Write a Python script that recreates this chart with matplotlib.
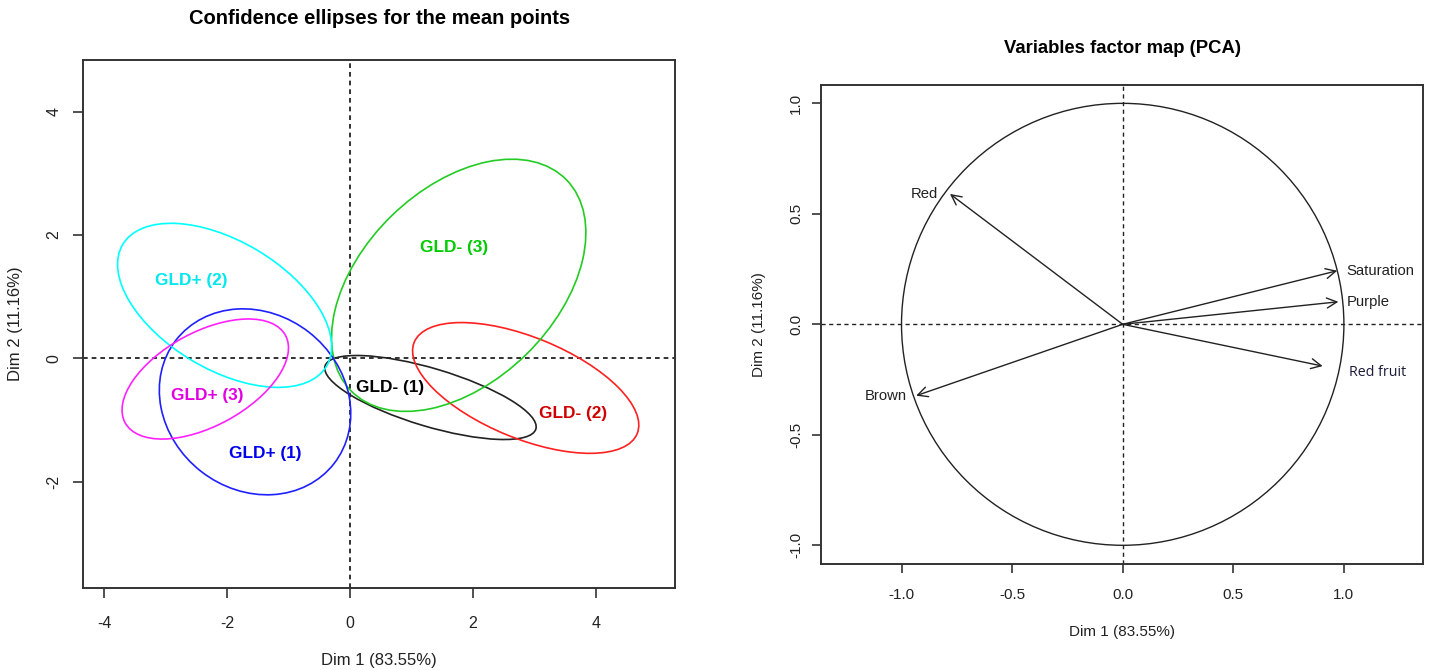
import numpy as np
import matplotlib.pyplot as plt
from matplotlib.patches import Ellipse, Circle

plt.rcParams['font.family'] = ['Liberation Sans', 'DejaVu Sans']
plt.rcParams['axes.unicode_minus'] = False

# confidence ellipses
groups = ['GLD- (1)', 'GLD- (2)', 'GLD- (3)', 'GLD+ (1)', 'GLD+ (2)', 'GLD+ (3)']
ell_cx = [1.31, 2.86, 1.77, -1.545, -2.04, -2.355]
ell_cy = [-0.635, -0.48, 1.185, -0.705, 0.86, -0.335]
ell_a = [1.79, 1.96, 2.45, 1.63, 1.93, 1.485]
ell_b = [0.47, 0.82, 1.57, 1.43, 1.04, 0.76]
ell_angle = [-16.6, -22.2, 44.2, -37.8, -30.7, 28.5]
lab_x = [0.65, 3.63, 1.70, -1.38, -2.58, -2.33]
lab_y = [-0.47, -0.89, 1.80, -1.55, 1.26, -0.61]

line_cols = ['#222222', '#ff2020', '#22cc22', '#2020ff', '#00ffff', '#ff22ff']
text_cols = ['black', '#d00000', '#00cc00', '#0000ee', '#00e8ee', '#e000e0']

# variables factor map
var_names = ['Red', 'Saturation', 'Purple', 'Red fruit', 'Brown']
var_x = [-0.781, 0.970, 0.975, 0.904, -0.934]
var_y = [0.590, 0.2425, 0.102, -0.189, -0.323]

ticks1_x = [-4, -2, 0, 2, 4]
ticks1_y = [-2, 0, 2, 4]
ticks2 = [-1.0, -0.5, 0.0, 0.5, 1.0]

W, H = 1432, 670
fig = plt.figure(figsize=(W / 100, H / 100), dpi=100)
fig.patch.set_facecolor('white')

# ---- left panel
ax1 = fig.add_axes([83.3 / W, 1 - 588.3 / H, 591.7 / W, 528.3 / H])
ax1.set_xlim(-4.34, 5.29)
ax1.set_ylim(-3.73, 4.84)

ax1.axhline(0, color='#222222', lw=1.3, ls=(0, (2.6, 2.2)), zorder=1)
ax1.axvline(0, color='#222222', lw=1.3, ls=(0, (2.6, 2.2)), zorder=1)

for i in range(len(groups)):
    e = Ellipse((ell_cx[i], ell_cy[i]), 2 * ell_a[i], 2 * ell_b[i], angle=ell_angle[i],
                fill=False, edgecolor=line_cols[i], lw=1.2, zorder=2)
    ax1.add_patch(e)
    ax1.text(lab_x[i], lab_y[i], groups[i], color=text_cols[i], fontsize=12.4,
             fontweight='bold', ha='center', va='center', zorder=3)

ax1.set_xticks(ticks1_x)
ax1.set_xticklabels([str(t) for t in ticks1_x])
ax1.set_yticks(ticks1_y)
ax1.set_yticklabels([str(t) for t in ticks1_y], rotation=90, va='center')
ax1.tick_params(axis='both', direction='out', length=7.2, width=1.1,
                labelsize=11.5, colors='#222222')
ax1.tick_params(axis='x', pad=13)
ax1.tick_params(axis='y', pad=8.4)
for s in ax1.spines.values():
    s.set_linewidth(1.4)
    s.set_color('#333333')

ax1.set_title('Confidence ellipses for the mean points', fontsize=14.5,
              fontweight='bold', y=1.079, va='center', pad=0)
ax1.set_xlabel('Dim 1 (83.55%)', fontsize=12, color='#222222')
ax1.set_ylabel('Dim 2 (11.16%)', fontsize=12, color='#222222')
ax1.xaxis.label.set_va('center')
ax1.yaxis.label.set_va('center')
ax1.xaxis.set_label_coords(0.5, -0.137)
ax1.yaxis.set_label_coords(-0.1154, 0.5)

# ---- right panel
ax2 = fig.add_axes([821 / W, 1 - 564.3 / H, 602.3 / W, 479.3 / H])
ax2.set_xlim(-1.364, 1.359)
ax2.set_ylim(-1.086, 1.083)

ax2.axhline(0, color='#222222', lw=1.0, ls=(0, (3, 2.5)), zorder=1)
ax2.axvline(0, color='#222222', lw=1.0, ls=(0, (3, 2.5)), zorder=1)
ax2.add_patch(Circle((0, 0), 1, fill=False, edgecolor='#222222', lw=1.0, zorder=2))

# label placement: (ha, dx px, dy px)
lab_place = [('right', -12, 0), ('left', 9, 0), ('left', 8, 0), ('left', 26, -6), ('right', -9, 0)]

for i, name in enumerate(var_names):
    ax2.annotate('', xy=(var_x[i], var_y[i]), xytext=(0, 0),
                 arrowprops=dict(arrowstyle='->,head_length=0.6,head_width=0.3',
                                 color='#222222', lw=1.0, shrinkA=0, shrinkB=0,
                                 mutation_scale=12), zorder=3)
    ha, dx, dy = lab_place[i]
    if name == 'Red fruit':
        ax2.annotate(name, xy=(var_x[i], var_y[i]), xytext=(dx, dy),
                     textcoords='offset pixels', ha=ha, va='center',
                     fontsize=10.3, color='#1c1c3a', family='Open Sans')
    else:
        ax2.annotate(name, xy=(var_x[i], var_y[i]), xytext=(dx, dy),
                     textcoords='offset pixels', ha=ha, va='center',
                     fontsize=10.7, color='#222222')

ax2.set_xticks(ticks2)
ax2.set_xticklabels(['%.1f' % t for t in ticks2])
ax2.set_yticks(ticks2)
ax2.set_yticklabels(['%.1f' % t for t in ticks2], rotation=90, va='center')
ax2.tick_params(axis='both', direction='out', length=6.5, width=1.1,
                labelsize=11, colors='#222222')
ax2.tick_params(axis='x', pad=10.8)
ax2.tick_params(axis='y', pad=6.3)
for s in ax2.spines.values():
    s.set_linewidth(1.4)
    s.set_color('#333333')

ax2.set_title('Variables factor map (PCA)', fontsize=13.3, fontweight='bold',
              y=1.0766, va='center', pad=0)
ax2.set_xlabel('Dim 1 (83.55%)', fontsize=11, color='#222222')
ax2.set_ylabel('Dim 2 (11.16%)', fontsize=11, color='#222222')
ax2.xaxis.label.set_va('center')
ax2.yaxis.label.set_va('center')
ax2.xaxis.set_label_coords(0.5, -0.1406)
ax2.yaxis.set_label_coords(-0.103, 0.5)

fig.savefig('out.png', dpi=100)
